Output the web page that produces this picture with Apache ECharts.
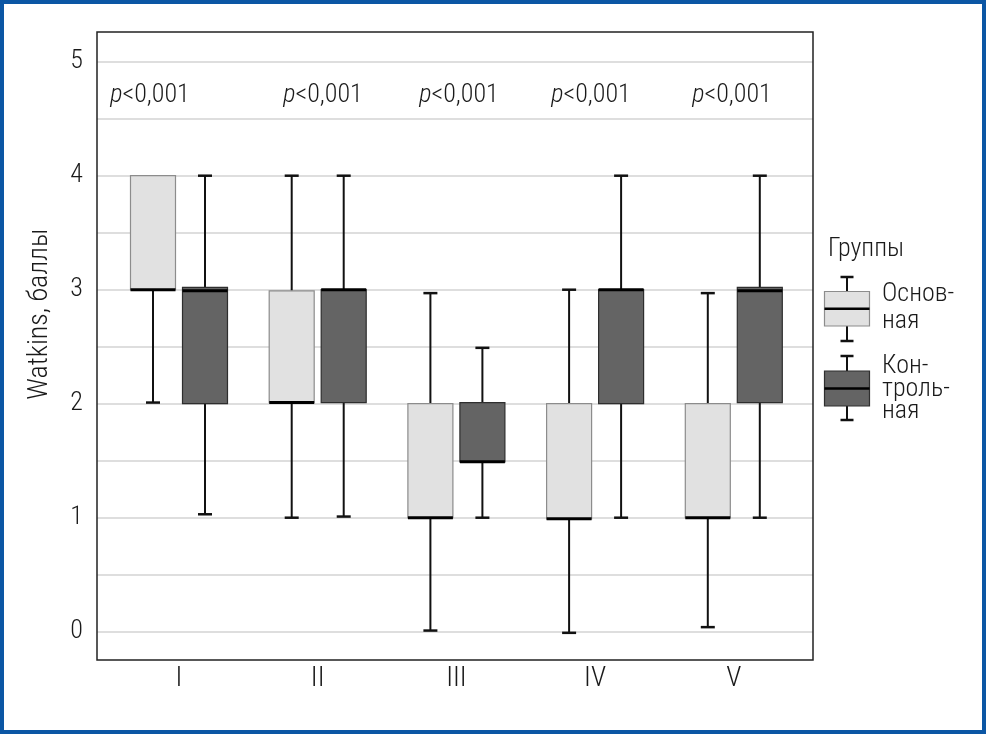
<!DOCTYPE html>
<html>
<head>
<meta charset="utf-8">
<script src="https://cdn.jsdelivr.net/npm/echarts@6/dist/echarts.min.js"></script>
<style>
html,body{margin:0;padding:0;background:#fff;}
#c{width:986px;height:734px;}
#frame{position:absolute;left:0;top:0;width:986px;height:734px;box-sizing:border-box;border:4px solid #0b56a4;pointer-events:none;}
</style>
</head>
<body>
<div id="c"></div>
<div id="frame"></div>
<script>
// ---- data ----
const categories = ['I', 'II', 'III', 'IV', 'V'];
// each item: [min, Q1, median, Q3, max]
const mainGroup = [
  [2.01, 3.00, 3.00, 4.00, 4.00],
  [1.00, 2.01, 2.01, 2.99, 4.00],
  [0.01, 1.00, 1.00, 2.00, 2.97],
  [-0.01, 0.99, 0.99, 2.00, 3.00],
  [0.04, 1.00, 1.00, 2.00, 2.97]
];
const controlGroup = [
  [1.03, 2.00, 2.99, 3.02, 4.00],
  [1.01, 2.01, 3.00, 3.00, 4.00],
  [1.00, 1.49, 1.49, 2.01, 2.49],
  [1.00, 2.00, 3.00, 3.00, 4.00],
  [1.00, 2.01, 2.99, 3.02, 4.00]
];
const pValues = ['<0,001', '<0,001', '<0,001', '<0,001', '<0,001'];
const yTickLabels = [0, 1, 2, 3, 4, 5];
const groupNames = ['Основная', 'Контрольная'];
const legendTitle = 'Группы';
const legendLines = [['Основ-', 'ная'], ['Кон-', 'троль-', 'ная']];

// ---- styles / layout ----
const FONT = "'Roboto Condensed', 'DejaVu Sans Condensed', sans-serif";
const FW = 300;
const TXT = '#1a1a1a';
const LIGHT_FILL = '#e1e1e1', LIGHT_STROKE = '#8c8c8c';
const DARK_FILL = '#646464', DARK_STROKE = '#2e2e2e';

function boxRenderer(offsetPx, fill, stroke) {
  return function (params, api) {
    const ci = api.value(0);
    const pt = k => api.coord([ci, api.value(k)]);
    const cx = pt(1)[0] + offsetPx;
    const yMin = pt(1)[1], yQ1 = pt(2)[1], yMed = pt(3)[1], yQ3 = pt(4)[1], yMax = pt(5)[1];
    const hb = 22.5, hc = 7;
    const w = { stroke: '#111', lineWidth: 2 };
    const ch = [];
    if (yMin - yQ1 > 1) {
      ch.push({ type: 'line', shape: { x1: cx, y1: yQ1, x2: cx, y2: yMin }, style: w });
      ch.push({ type: 'line', shape: { x1: cx - hc, y1: yMin, x2: cx + hc, y2: yMin }, style: { stroke: '#111', lineWidth: 2.5 } });
    }
    if (yQ3 - yMax > 1) {
      ch.push({ type: 'line', shape: { x1: cx, y1: yQ3, x2: cx, y2: yMax }, style: w });
      ch.push({ type: 'line', shape: { x1: cx - hc, y1: yMax, x2: cx + hc, y2: yMax }, style: { stroke: '#111', lineWidth: 2.5 } });
    }
    ch.push({ type: 'rect', shape: { x: cx - hb, y: yQ3, width: 2 * hb, height: yQ1 - yQ3 },
      style: { fill: fill, stroke: stroke, lineWidth: 1.2 } });
    ch.push({ type: 'line', shape: { x1: cx - hb, y1: yMed, x2: cx + hb, y2: yMed },
      style: { stroke: '#000', lineWidth: 3 } });
    return { type: 'group', children: ch };
  };
}

// p-value labels (layout)
const pLabelCenters = [150, 323, 459, 591, 732];
const pLabelElems = pValues.map((t, i) => ({
  type: 'text', x: pLabelCenters[i], y: 95, z: 10,
  style: {
    text: '{i|p}{n|' + t + '}',
    rich: {
      i: { fontFamily: FONT, fontWeight: FW, fontSize: 26, fontStyle: 'italic', fill: TXT },
      n: { fontFamily: FONT, fontWeight: FW, fontSize: 26, fill: TXT }
    },
    fontFamily: FONT, fontWeight: FW, fontSize: 26, fill: TXT,
    align: 'center', verticalAlign: 'middle', textAlign: 'center', textVerticalAlign: 'middle'
  }
}));

function legendGlyph(cx, capTop, boxTop, boxBot, capBot, fill, stroke) {
  const med = (boxTop + boxBot) / 2;
  return [
    { type: 'line', shape: { x1: cx, y1: capTop, x2: cx, y2: boxTop }, style: { stroke: '#111', lineWidth: 2 } },
    { type: 'line', shape: { x1: cx - 6.5, y1: capTop, x2: cx + 6.5, y2: capTop }, style: { stroke: '#111', lineWidth: 2.5 } },
    { type: 'line', shape: { x1: cx, y1: boxBot, x2: cx, y2: capBot }, style: { stroke: '#111', lineWidth: 2 } },
    { type: 'line', shape: { x1: cx - 6.5, y1: capBot, x2: cx + 6.5, y2: capBot }, style: { stroke: '#111', lineWidth: 2.5 } },
    { type: 'rect', shape: { x: cx - 22.5, y: boxTop, width: 45, height: boxBot - boxTop }, style: { fill: fill, stroke: stroke, lineWidth: 1.2 } },
    { type: 'line', shape: { x1: cx - 22.5, y1: med, x2: cx + 22.5, y2: med }, style: { stroke: '#000', lineWidth: 2.5 } }
  ];
}
function legendText(txt, x, y) {
  return { type: 'text', x: x, y: y,
    style: { text: txt, fontFamily: FONT, fontWeight: FW, fontSize: 26, fill: TXT,
      align: 'left', verticalAlign: 'middle', textAlign: 'left', textVerticalAlign: 'middle' } };
}
const legendLineY = [[294, 321], [366, 389, 411]];
const legendElems = [
  legendText(legendTitle, 828, 249),
  ...legendGlyph(847, 277, 291.5, 326, 341, LIGHT_FILL, LIGHT_STROKE),
  ...legendGlyph(847, 356, 371, 406, 420, DARK_FILL, DARK_STROKE),
  ...legendLines[0].map((t, i) => legendText(t, 882, legendLineY[0][i])),
  ...legendLines[1].map((t, i) => legendText(t, 882, legendLineY[1][i]))
];

const chart = echarts.init(document.getElementById('c'), null, { renderer: 'canvas' });
chart.setOption({
  animation: false,
  backgroundColor: '#fff',
  textStyle: { fontFamily: FONT, fontWeight: FW },
  grid: [
    { left: 97, right: 173, top: 32, bottom: 74, show: true, borderColor: '#222', borderWidth: 1.5,
      backgroundColor: 'transparent', z: 5, outerBoundsMode: 'none' },
    { left: 97, right: 173, top: 61.7, bottom: 102.3, outerBoundsMode: 'none' },
    { left: 109.65, right: 182.85, top: 61.7, bottom: 102.3, outerBoundsMode: 'none' }
  ],
  xAxis: [
    { gridIndex: 0, type: 'value', show: false },
    { gridIndex: 1, type: 'value', show: false },
    { gridIndex: 2, type: 'category', data: categories, boundaryGap: true,
      axisLine: { show: false }, axisTick: { show: false }, splitLine: { show: false },
      axisLabel: { fontSize: 28, color: TXT, margin: 33, fontFamily: FONT, fontWeight: FW } }
  ],
  yAxis: [
    { gridIndex: 0, type: 'value', show: false },
    { gridIndex: 1, type: 'value', min: 0, max: 5, interval: 0.5,
      axisLine: { show: false }, axisTick: { show: false },
      splitLine: { show: true, lineStyle: { color: '#d3d3d3', width: 1.5 } },
      axisLabel: { fontSize: 26, color: TXT, margin: 14, fontFamily: FONT, fontWeight: FW,
        formatter: v => (yTickLabels.indexOf(v) >= 0 ? String(v) : '') },
      name: 'Watkins, баллы', nameLocation: 'middle', nameGap: 43,
      nameTextStyle: { fontSize: 28, color: TXT, fontFamily: FONT, fontWeight: FW, padding: [0, 0, 0, 65] } },
    { gridIndex: 2, type: 'value', min: 0, max: 5, show: false }
  ],
  series: [
    { name: groupNames[0], type: 'custom', xAxisIndex: 2, yAxisIndex: 2, z: 3,
      renderItem: boxRenderer(-26, LIGHT_FILL, LIGHT_STROKE),
      encode: { x: 0, y: [1, 2, 3, 4, 5] },
      data: mainGroup.map((v, i) => [i].concat(v)) },
    { name: groupNames[1], type: 'custom', xAxisIndex: 2, yAxisIndex: 2, z: 3,
      renderItem: boxRenderer(26, DARK_FILL, DARK_STROKE),
      encode: { x: 0, y: [1, 2, 3, 4, 5] },
      data: controlGroup.map((v, i) => [i].concat(v)) }
  ],
  graphic: { elements: pLabelElems.concat(legendElems) }
});
</script>
</body>
</html>
